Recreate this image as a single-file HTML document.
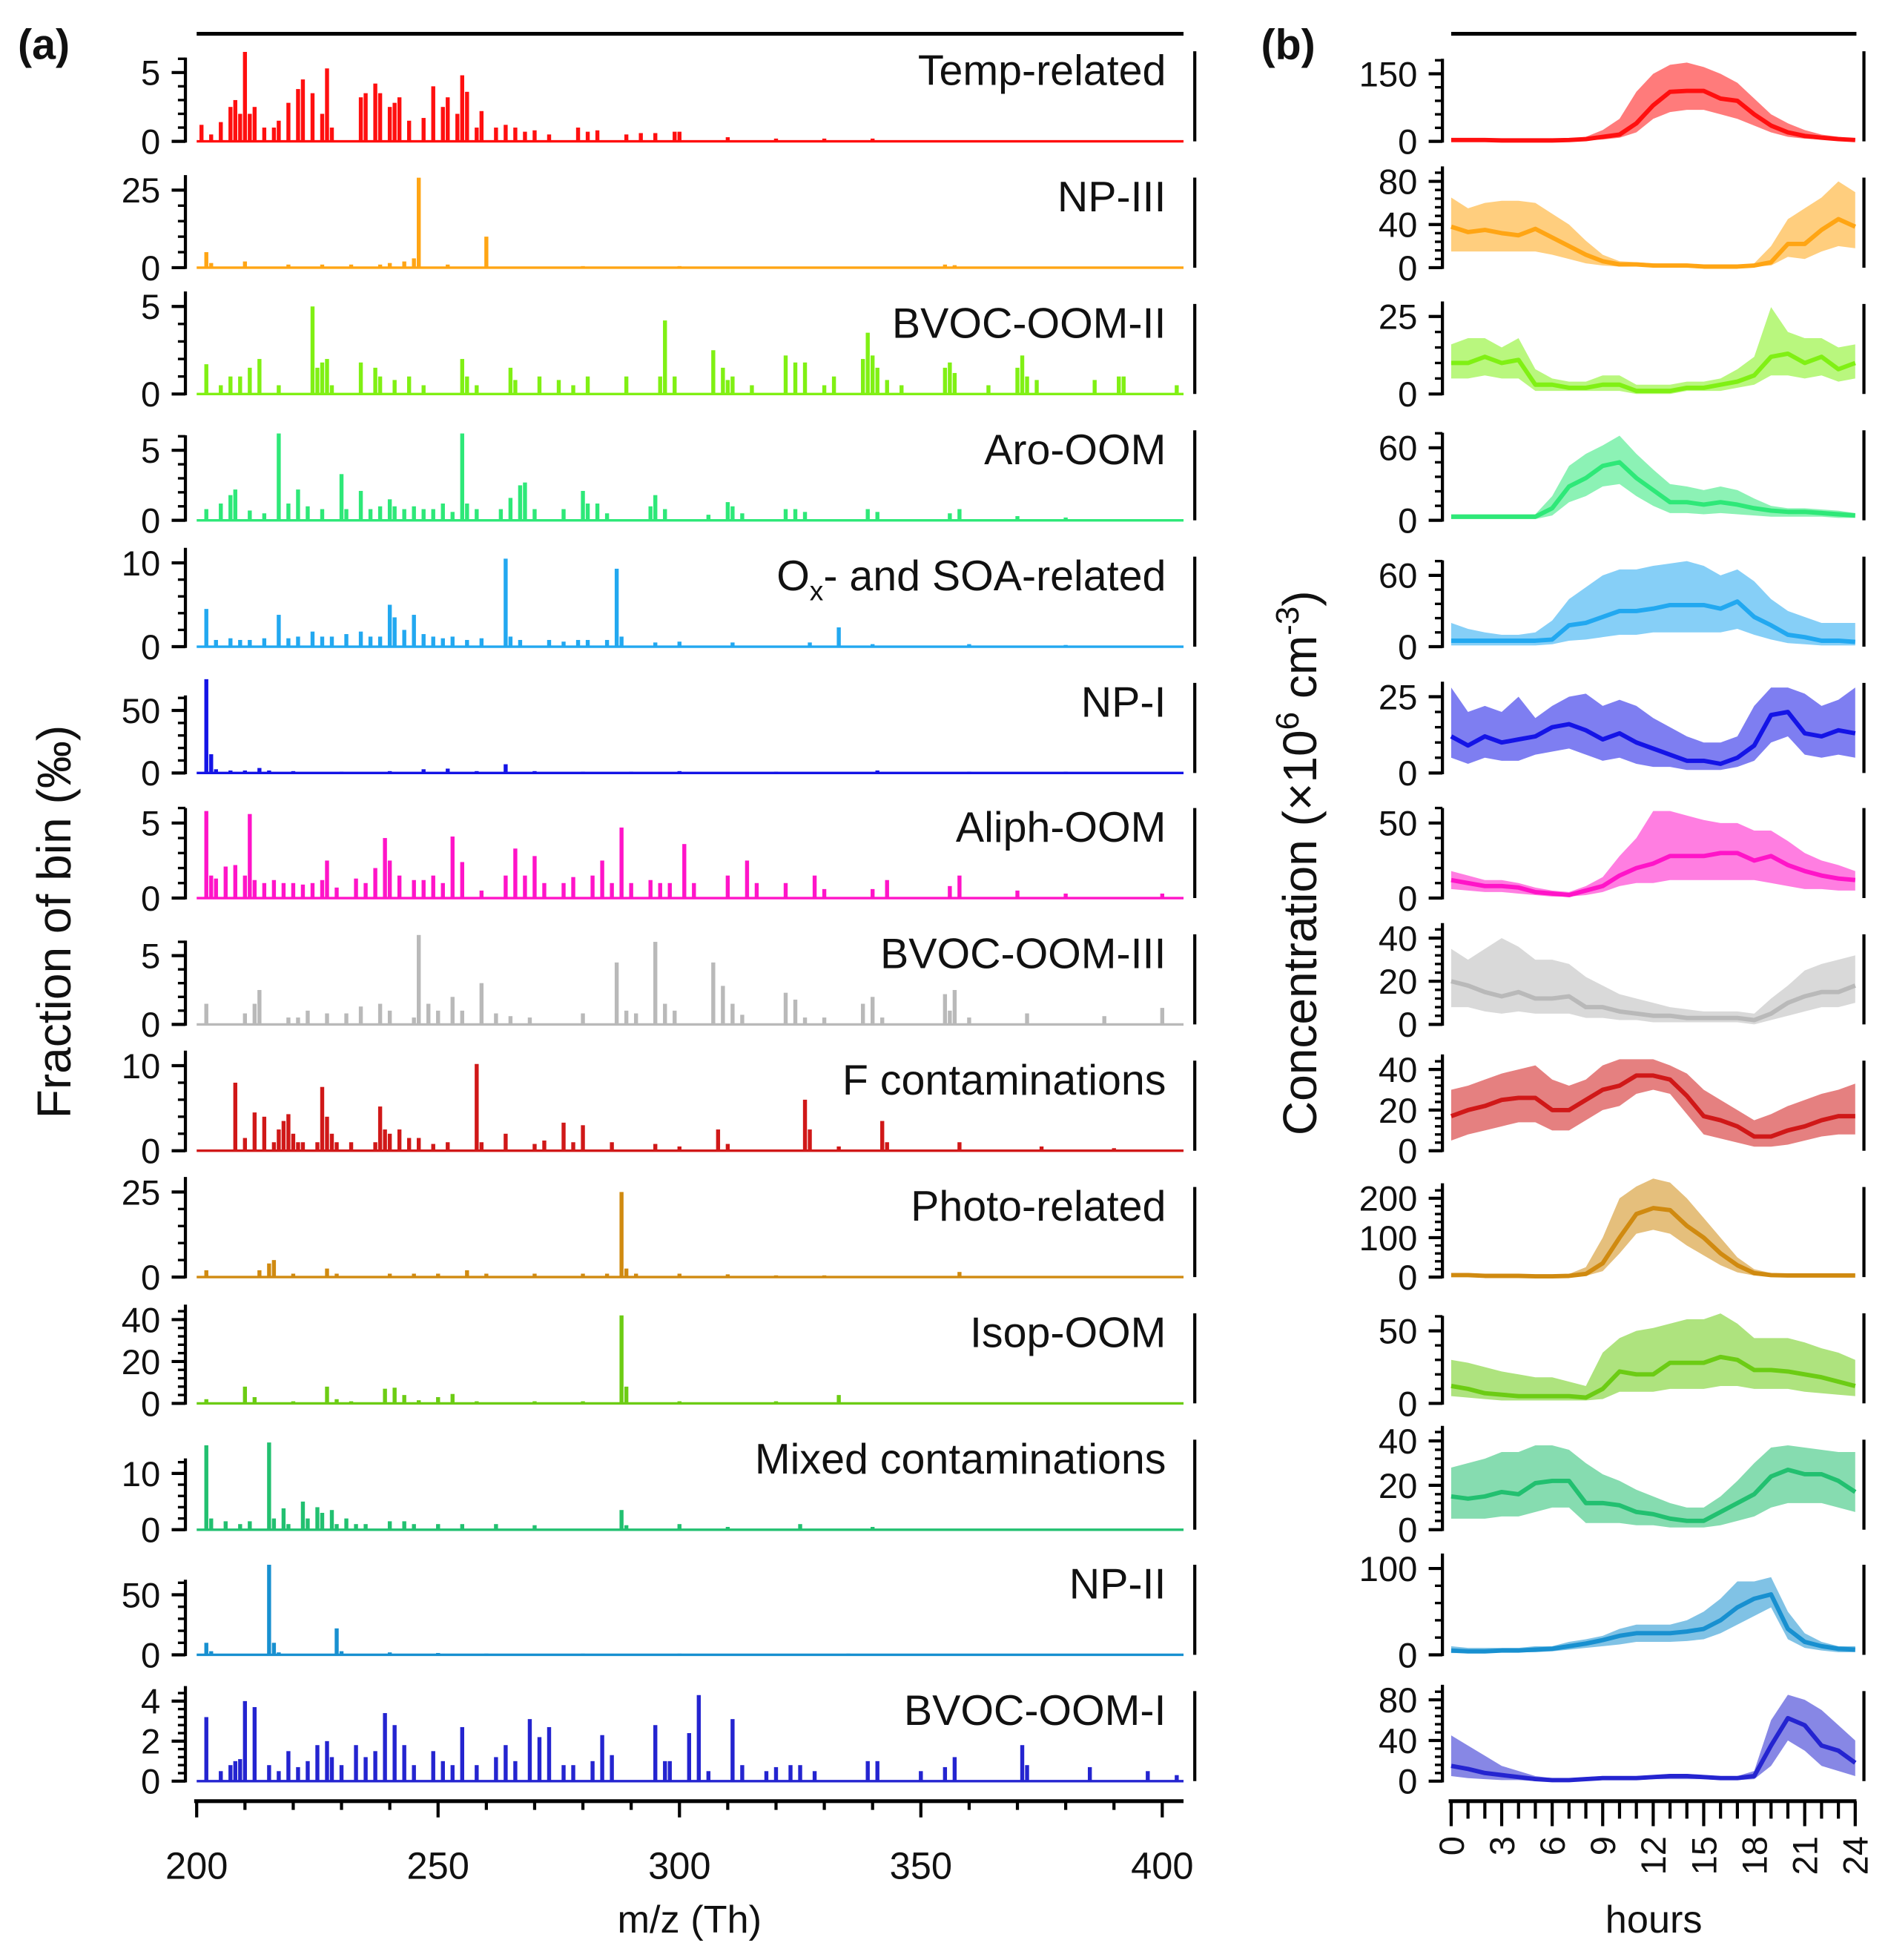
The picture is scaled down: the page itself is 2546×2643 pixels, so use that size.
<!DOCTYPE html>
<html><head><meta charset="utf-8"><style>
html,body{margin:0;padding:0;background:#fff}
svg{display:block}
text{font-family:"Liberation Sans",sans-serif;fill:#111}
</style></head><body>
<svg id="chart" xmlns="http://www.w3.org/2000/svg" width="2546" height="2643" viewBox="0 0 1509 1567">
<g id="root"></g>
</svg>
<script>
// ---------- data ----------
const names=["Temp-related","NP-III","BVOC-OOM-II","Aro-OOM","Ox- and SOA-related","NP-I","Aliph-OOM","BVOC-OOM-III","F contaminations","Photo-related","Isop-OOM","Mixed contaminations","NP-II","BVOC-OOM-I"];
const colors=["#ff0f0f","#ffa514","#80f014","#2ee878","#22a8f0","#1414e6","#ff14c8","#b9b9b9","#d01818","#d08a10","#6ccc14","#22c070","#1890d0","#2424d0"];
const specTicks=[[0,5],[0,25],[0,5],[0,5],[0,10],[0,50],[0,5],[0,5],[0,10],[0,25],[0,20,40],[0,10],[0,50],[0,2,4]];
const specTopVal=[5,25,5,5,10,50,5,5,10,25,40,10,50,4];
const specTopPx=[55,62,70,56,67,50,60,55,68,68,67,45,48,64];
const diurTicks=[[0,150],[0,40,80],[0,25],[0,60],[0,60],[0,25],[0,50],[0,20,40],[0,20,40],[0,100,200],[0,50],[0,20,40],[0,100],[0,40,80]];
const diurTopVal=[150,80,25,60,60,25,50,40,40,200,50,40,100,80];
const diurTopPx=[54,69,62,58,57,61,60,69,65,63,58,71,69,65];
const zeros=[113,214,315,416,517,618,718,819,920,1021,1122,1223,1323,1424];

const spec0=[[201,1.2],[203,0.5],[205,1.4],[207,2.5],[208,3],[209,2],[210,6.5],[211,2],[212,2.5],[214,1],[216,1],[217,1.5],[219,2.8],[221,3.8],[222,4.5],[224,3.5],[226,2],[227,5.3],[228,1],[234,3.2],[235,3.5],[237,4.2],[238,3.5],[240,2.5],[241,2.8],[242,3.2],[244,1.5],[247,1.7],[249,4],[251,2.5],[252,3.2],[254,2],[255,4.8],[256,3.6],[258,1],[259,2.2],[262,1],[264,1.2],[266,1],[268,0.7],[270,0.8],[273,0.5],[279,1],[281,0.7],[283,0.8],[289,0.5],[292,0.6],[295,0.6],[299,0.7],[300,0.7],[310,0.3],[320,0.2],[330,0.2],[340,0.2]];
const spec1=[[202,5],[203,1.5],[210,2],[219,1],[226,1],[232,1],[238,1],[240,1.5],[243,2],[245,3],[246,29],[252,1],[260,10],[280,0.5],[300,0.5],[355,1],[357,0.8]];
const spec2=[[202,1.7],[205,0.5],[207,1],[209,1],[211,1.5],[213,2],[217,0.5],[224,5],[225,1.5],[226,1.8],[227,2],[228,0.5],[234,1.8],[237,1.5],[238,1],[241,0.8],[244,1],[247,0.5],[255,2],[256,1],[258,0.5],[265,1.5],[266,0.8],[271,1],[275,0.8],[278,0.5],[281,1],[289,1],[296,1],[297,4.2],[299,1],[307,2.5],[309,1.5],[310,0.8],[311,1],[315,0.5],[322,2.2],[324,1.8],[326,1.8],[330,0.5],[332,1],[338,2],[339,3.5],[340,2.2],[341,1.5],[343,0.8],[346,0.5],[355,1.5],[356,1.8],[357,1.2],[364,0.5],[370,1.5],[371,2.2],[372,1],[374,0.8],[386,0.8],[391,1],[392,1],[403,0.5]];
const spec3=[[202,0.8],[205,1.2],[207,1.8],[208,2.2],[211,0.7],[214,0.5],[217,6.2],[219,1.2],[221,2.2],[223,1],[226,0.8],[230,3.3],[231,0.8],[234,2.1],[236,0.8],[238,1],[240,1.5],[241,1],[243,0.8],[245,1],[247,0.8],[249,0.8],[251,1.2],[253,0.6],[255,6.2],[256,1.2],[258,0.8],[263,0.8],[265,1.6],[267,2.5],[268,2.7],[270,0.8],[276,0.8],[280,2.1],[281,1.2],[283,1.2],[285,0.5],[294,1],[295,1.8],[297,0.8],[306,0.4],[310,1.3],[311,1],[313,0.5],[322,0.8],[324,0.8],[326,0.6],[339,0.8],[341,0.6],[356,0.5],[358,0.8],[370,0.3],[380,0.2]];
const spec4=[[202,4.5],[204,0.8],[207,1],[209,0.8],[211,0.8],[214,1],[217,3.8],[219,1],[221,1.2],[224,1.8],[226,1.2],[228,1.2],[231,1.5],[234,1.8],[236,1.2],[238,1.2],[240,5],[241,3.5],[243,2],[245,3.8],[247,1.5],[249,1.2],[251,1],[253,1.2],[256,0.8],[259,1],[264,10.5],[265,1.2],[267,0.8],[273,0.8],[276,0.6],[279,0.8],[281,0.8],[285,0.8],[287,9.3],[288,1.2],[295,0.5],[300,0.6],[311,0.5],[327,0.5],[333,2.3],[340,0.3],[360,0.3],[380,0.2]];
const spec5=[[202,75],[203,15],[204,3],[207,2],[210,2],[213,4],[215,2],[220,1.5],[230,1],[240,1.5],[247,3],[252,3.5],[258,1.5],[264,7],[270,1.5],[280,1],[290,1],[300,1.5],[320,1],[341,2],[360,1],[380,1]];
const spec6=[[202,5.8],[203,1.5],[204,1.3],[206,2.1],[208,2.2],[210,1.5],[211,5.6],[212,1.2],[214,1],[216,1.2],[218,1],[220,1],[222,0.9],[224,1],[226,1.2],[227,2.5],[229,0.7],[233,1.3],[235,1],[237,2],[239,4],[240,2.5],[242,1.5],[245,1.2],[247,1.2],[249,1.5],[251,1],[253,4.1],[255,2.4],[259,0.5],[264,1.5],[266,3.3],[268,1.5],[270,2.8],[272,1],[276,1],[278,1.4],[282,1.5],[284,2.5],[286,1],[288,4.7],[290,1],[294,1.2],[296,1],[298,1],[301,3.6],[303,1],[310,1.5],[314,2.5],[316,1],[322,1],[328,1.5],[330,0.6],[340,0.6],[343,1.2],[356,0.8],[358,1.5],[370,0.5],[380,0.3],[400,0.3]];
const spec7=[[202,1.5],[210,0.8],[212,1.5],[213,2.5],[219,0.5],[221,0.5],[223,1],[227,0.8],[231,0.8],[234,1.3],[238,1.5],[240,1],[245,0.5],[246,6.5],[248,1.5],[250,1],[253,2],[255,1],[259,3],[262,0.8],[265,0.6],[269,0.5],[280,0.8],[287,4.5],[289,1],[291,0.8],[295,6],[297,1.5],[299,1],[307,4.5],[309,2.8],[311,1.5],[313,0.7],[322,2.3],[324,1.8],[326,0.5],[330,0.5],[338,1.5],[340,2],[342,0.5],[355,2.2],[356,1],[357,2.5],[360,0.5],[372,0.8],[388,0.6],[400,1.2]];
const spec8=[[208,8],[210,1.5],[212,4.5],[214,4],[216,1],[217,2.5],[218,3.5],[219,4.3],[220,2],[221,1],[222,1],[225,1],[226,7.5],[227,4],[228,2],[229,1],[232,1],[237,1],[238,5.2],[239,2.5],[240,2],[242,2.5],[244,1.5],[246,1.5],[249,0.8],[252,1],[258,10.2],[259,1],[264,2],[270,0.8],[272,1.2],[276,3.3],[278,1],[280,3],[286,1],[295,0.8],[300,0.5],[308,2.5],[310,0.8],[326,6],[327,2.5],[333,0.5],[342,3.5],[343,1],[358,1],[375,0.5],[390,0.3]];
const spec9=[[202,2],[213,2],[215,4],[216,5],[220,1],[227,2.5],[229,1],[240,1],[245,1],[250,1],[256,2],[260,1],[270,1],[280,1],[285,1],[288,25],[289,2.5],[291,1],[300,1],[310,0.8],[320,0.5],[330,0.5],[358,1.5]];
const spec10=[[202,2],[210,8],[212,3],[220,1],[227,8],[229,2],[232,1],[239,7],[241,7.5],[243,4],[246,1.5],[250,3],[253,4.5],[258,1],[270,1],[280,1],[288,42],[289,8],[300,1],[320,1],[333,4],[340,0.5]];
const spec11=[[202,15],[203,2],[206,1.5],[209,1],[211,1.5],[215,15.5],[216,2],[218,3.8],[219,1],[222,5],[223,2],[225,4],[226,3],[228,3.5],[229,1],[231,2],[233,1],[235,1],[240,1.5],[243,1.5],[245,1],[250,1],[255,1],[262,1],[270,0.8],[288,3.5],[289,0.8],[300,1],[310,0.5],[325,1],[340,0.5]];
const spec12=[[202,10],[203,3],[215,75],[216,10],[217,2],[229,22],[230,3],[240,2],[250,1.5],[260,1],[280,1],[300,1],[335,1]];
const spec13=[[202,3.2],[205,0.5],[207,0.8],[208,1],[209,1.1],[210,4],[212,3.7],[215,0.8],[217,0.5],[219,1.5],[221,0.7],[223,1],[225,1.8],[227,2],[228,1.2],[230,0.8],[233,1.8],[235,1.2],[237,1.5],[239,3.4],[241,2.8],[243,1.8],[245,0.8],[249,1.5],[251,1],[253,0.8],[255,2.7],[258,0.8],[262,1.2],[264,1.8],[266,1],[269,3.1],[271,2.2],[273,2.7],[276,0.8],[278,0.8],[282,1],[284,2.3],[286,1.3],[295,2.8],[297,1],[298,1],[302,2.4],[304,4.3],[306,0.5],[311,3.1],[313,0.8],[318,0.5],[320,0.7],[323,0.8],[325,0.8],[328,0.5],[339,1],[341,1],[350,0.5],[355,0.7],[357,1.2],[371,1.8],[372,0.8],[385,0.7],[397,0.5],[403,0.3]];
const specs=[spec0,spec1,spec2,spec3,spec4,spec5,spec6,spec7,spec8,spec9,spec10,spec11,spec12,spec13];

const hours=[0,1,2,3,4,5,6,7,8,9,10,11,12,13,14,15,16,17,18,19,20,21,22,23,24];
const mid0=[3,3,3,2,2,2,2,3,5,10,15,40,80,110,112,112,95,90,60,35,20,12,8,5,3];
const hi0=[5,5,5,4,4,4,4,5,10,25,50,110,150,170,175,165,150,130,95,60,40,25,15,10,6];
const lo0=[1,1,1,1,1,1,1,1,2,4,8,20,50,65,70,70,60,50,35,20,10,6,4,2,1];
const mid1=[38,33,35,32,30,36,28,20,12,6,3,3,2,2,2,1,1,1,2,5,22,22,35,45,38];
const hi1=[65,55,60,62,62,60,50,40,25,12,6,5,4,3,3,2,2,2,4,20,45,55,65,80,70];
const lo1=[15,15,15,15,15,15,12,8,4,2,1,1,1,1,1,0,0,0,1,2,10,8,15,20,18];
const mid2=[10,10,12,10,11,3,3,2,2,3,3,1,1,1,2,2,3,4,6,12,13,10,12,8,10];
const hi2=[16,18,18,15,18,8,5,4,4,6,6,3,3,3,4,4,5,8,12,28,20,18,18,15,16];
const lo2=[5,5,6,5,5,1,1,1,1,1,1,0,0,0,1,1,1,2,3,6,6,5,6,4,5];
const mid3=[3,3,3,3,3,3,10,28,35,45,48,35,25,15,15,13,15,13,10,8,7,7,6,5,4];
const hi3=[5,5,5,5,5,5,20,45,55,62,70,55,42,30,28,25,28,25,18,12,10,10,9,8,6];
const lo3=[1,1,1,1,1,1,4,15,20,28,30,20,12,6,6,5,6,5,4,3,3,3,3,2,2];
const mid4=[5,5,5,5,5,5,6,18,20,25,30,30,32,35,35,35,32,38,25,18,10,8,5,5,4];
const hi4=[20,15,12,10,10,12,22,40,50,60,65,65,68,70,72,68,60,65,55,40,30,25,20,20,20];
const lo4=[1,1,1,1,1,1,2,5,6,8,10,10,12,12,12,12,12,15,10,6,3,2,1,1,1];
const mid5=[12,9,12,10,11,12,15,16,14,11,13,10,8,6,4,4,3,5,9,19,20,13,12,14,13];
const hi5=[28,20,22,20,25,18,22,25,26,22,24,22,18,15,12,10,10,12,22,28,28,26,22,24,28];
const lo5=[5,3,5,4,4,6,7,8,6,4,5,3,2,2,1,1,1,2,4,10,12,6,5,6,5];
const mid6=[12,10,8,8,7,4,3,2,5,8,15,20,23,28,28,28,30,30,25,28,22,18,15,13,12];
const hi6=[18,15,12,12,10,7,5,4,8,14,28,40,58,58,55,52,50,50,45,45,38,30,25,22,18];
const lo6=[6,5,4,4,3,2,1,1,2,4,8,10,10,12,12,12,12,12,12,10,8,6,6,5,5];
const mid7=[20,18,15,13,15,12,12,13,8,8,6,5,4,4,3,3,3,3,2,5,10,13,15,15,18];
const hi7=[35,30,35,40,36,30,30,28,22,18,14,12,10,8,7,6,6,6,5,12,18,25,28,30,32];
const lo7=[8,8,6,5,6,5,5,5,3,3,2,2,1,1,1,1,1,1,0,2,4,6,8,8,10];
const mid8=[17,20,22,25,26,26,20,20,25,30,32,37,37,35,27,17,15,12,7,7,10,12,15,17,17];
const hi8=[30,32,35,38,40,42,35,32,35,42,45,45,45,42,38,30,25,20,15,18,22,25,28,30,33];
const lo8=[5,8,10,12,14,14,10,10,15,20,22,28,30,28,18,8,6,4,2,2,3,5,7,8,8];
const mid9=[5,5,3,3,3,2,2,3,8,35,100,160,175,170,130,100,60,30,10,5,4,4,4,4,4];
const hi9=[10,10,8,8,6,5,5,8,25,100,200,230,250,240,200,150,100,50,20,10,8,8,8,8,8];
const lo9=[2,2,1,1,1,1,1,1,3,15,60,110,120,110,80,55,30,12,4,2,2,2,2,2,2];
const mid10=[12,10,7,6,5,5,5,5,4,10,22,20,20,28,28,28,32,30,23,23,22,20,18,15,12];
const hi10=[30,28,25,22,20,18,18,15,12,35,45,50,52,55,58,58,62,55,45,45,45,42,38,35,30];
const lo10=[5,4,3,2,2,2,2,2,2,3,8,8,8,10,10,10,12,12,10,10,10,8,7,6,5];
const mid11=[15,14,15,17,16,21,22,22,12,12,11,8,7,5,4,4,8,12,16,24,27,25,25,22,17];
const hi11=[28,30,32,35,35,38,38,36,30,25,22,18,15,12,10,10,15,22,30,37,38,37,36,35,35];
const lo11=[5,5,5,6,6,8,10,10,3,3,3,2,2,1,1,1,2,4,6,10,12,12,12,10,8];
const mid12=[5,4,4,5,5,6,7,10,13,17,22,25,25,25,27,30,40,55,65,70,30,15,10,7,6];
const hi12=[10,8,8,8,8,10,10,15,18,22,30,35,35,35,40,50,65,85,85,90,50,25,15,10,10];
const lo12=[2,2,2,3,3,3,4,6,8,10,12,15,15,15,16,18,25,35,45,55,18,8,5,3,3];
const mid13=[15,12,8,6,4,2,1,1,2,3,3,3,4,5,5,4,3,3,5,35,62,55,35,30,18];
const hi13=[45,35,25,15,10,5,3,3,4,5,5,5,6,7,7,6,5,5,10,60,85,80,70,55,40];
const lo13=[5,3,2,1,1,0,0,0,1,1,1,1,2,2,2,2,1,1,2,15,40,30,15,10,5];
const mids=[mid0,mid1,mid2,mid3,mid4,mid5,mid6,mid7,mid8,mid9,mid10,mid11,mid12,mid13];
const his=[hi0,hi1,hi2,hi3,hi4,hi5,hi6,hi7,hi8,hi9,hi10,hi11,hi12,hi13];
const los=[lo0,lo1,lo2,lo3,lo4,lo5,lo6,lo7,lo8,lo9,lo10,lo11,lo12,lo13];
const mzTicks=[200,250,300,350,400];
const hourTicks=[0,3,6,9,12,15,18,21,24];

// ---------- drawing ----------
const NS="http://www.w3.org/2000/svg";
const root=document.getElementById('root');
function mk(tag,attrs,parent){const e=document.createElementNS(NS,tag);for(const k in attrs)e.setAttribute(k,attrs[k]);(parent||root).appendChild(e);return e;}
const xMz=v=>157+(v-200)*3.86;
const xHr=h=>1160+h*13.46;
const AX_A=148, AX_B=1153;

let t=mk('text',{x:14,y:47,'font-size':34,'font-weight':'bold'});t.textContent='(a)';


t=mk('text',{x:1008,y:47,'font-size':34,'font-weight':'bold'});t.textContent='(b)';


mk('line',{x1:157,y1:27,x2:946,y2:27,stroke:'#000','stroke-width':3});
mk('line',{x1:1160,y1:27,x2:1484,y2:27,stroke:'#000','stroke-width':3});

function yAxis(g,x,zero,ticks,topVal,topPx){
  const s=v=>zero-v/topVal*topPx;
  const top=s(ticks[ticks.length-1]);
  mk('line',{x1:x,y1:zero+1,x2:x,y2:top-12,stroke:'#000','stroke-width':2.5},g);
  const step=ticks[1]-ticks[0];
  for(let i=0;i<ticks.length;i++){
    mk('line',{x1:x-11,y1:s(ticks[i]),x2:x,y2:s(ticks[i]),stroke:'#000','stroke-width':2.5},g);
    const tt=mk('text',{x:x-20,y:s(ticks[i])+10,'font-size':28,'text-anchor':'end'},g);tt.textContent=ticks[i];
  }
  const ms=step/5;
  for(let v=ms;v<=ticks[ticks.length-1]+step*0.2+1e-9;v+=ms){
    if(Math.abs(v/step-Math.round(v/step))<1e-6)continue;
    if(s(v)<top-12)break;
    mk('line',{x1:x-6,y1:s(v),x2:x,y2:s(v),stroke:'#000','stroke-width':2},g);
  }
  return s;
}

for(let r=0;r<14;r++){
  const zero=zeros[r], col=colors[r];
  const g=mk('g',{});
  
  
  const s=yAxis(g,AX_A,zero,specTicks[r],specTopVal[r],specTopPx[r]);
  mk('line',{x1:157,y1:zero,x2:946,y2:zero,stroke:col,'stroke-width':2},g);
  specs[r].forEach(([mz,v])=>{
    const b=mk('rect',{x:xMz(mz)-1.6,y:s(v),width:3.2,height:zero-s(v),fill:col},g);
    
    
  });
  mk('line',{x1:955,y1:zero-72,x2:955,y2:zero,stroke:'#000','stroke-width':2.5},g);
  const lbl=mk('text',{x:932,y:zero-45,'font-size':34,'text-anchor':'end'},g);
  if(r===4){lbl.innerHTML='O<tspan font-size="22" dy="8">x</tspan><tspan dy="-8">- and SOA-related</tspan>';}
  else lbl.textContent=names[r];
  
  

  const d=mk('g',{});
  
  
  const sy=yAxis(d,AX_B,zero,diurTicks[r],diurTopVal[r],diurTopPx[r]);
  let up='',dn='',ln='';
  hours.forEach((h,i)=>{up+=(i?'L':'M')+xHr(h)+','+sy(his[r][i]);ln+=(i?'L':'M')+xHr(h)+','+sy(mids[r][i]);});
  for(let i=hours.length-1;i>=0;i--)dn+='L'+xHr(hours[i])+','+sy(los[r][i]);
  const band=mk('path',{d:up+dn+'Z',fill:col,'fill-opacity':0.55},d);
  
  
  const line=mk('path',{d:ln,fill:'none',stroke:col,'stroke-width':3.5,'stroke-linejoin':'round'},d);
  
  
  mk('line',{x1:1490,y1:zero-72,x2:1490,y2:zero,stroke:'#000','stroke-width':2.5},d);
}

const xa=mk('g',{});


mk('line',{x1:155,y1:1440,x2:946,y2:1440,stroke:'#000','stroke-width':3},xa);
for(let v=200;v<=404;v+=10){mk('line',{x1:xMz(v),y1:1440,x2:xMz(v),y2:1440+(v%50===0?13:7),stroke:'#000','stroke-width':2.5},xa);}
mzTicks.forEach(v=>{const tt=mk('text',{x:xMz(v),y:1502,'font-size':30,'text-anchor':'middle'},xa);tt.textContent=v;});
t=mk('text',{x:551,y:1545,'font-size':31,'text-anchor':'middle'},xa);t.textContent='m/z (Th)';



const xb=mk('g',{});


mk('line',{x1:1158,y1:1440,x2:1484,y2:1440,stroke:'#000','stroke-width':3},xb);
hours.forEach(h=>{mk('line',{x1:xHr(h),y1:1440,x2:xHr(h),y2:1440+(h%3===0?20:14),stroke:'#000','stroke-width':2.5},xb);});
hourTicks.forEach(h=>{const tt=mk('text',{x:0,y:0,'font-size':28,'text-anchor':'end',transform:`translate(${xHr(h)+10},1468) rotate(-90)`},xb);tt.textContent=h;});
t=mk('text',{x:1322,y:1545,'font-size':31,'text-anchor':'middle'},xb);t.textContent='hours';



t=mk('text',{x:0,y:0,'font-size':38,'text-anchor':'middle',transform:'translate(56,737) rotate(-90)'});t.textContent='Fraction of bin (‰)';


t=mk('text',{x:0,y:0,'font-size':38,'text-anchor':'middle',transform:'translate(1052,690) rotate(-90)'});
t.innerHTML='Concentration (×10<tspan font-size="26" dy="-14">6</tspan><tspan dy="14"> cm</tspan><tspan font-size="26" dy="-14">-3</tspan><tspan dy="14">)</tspan>';


</script>
</body></html>
